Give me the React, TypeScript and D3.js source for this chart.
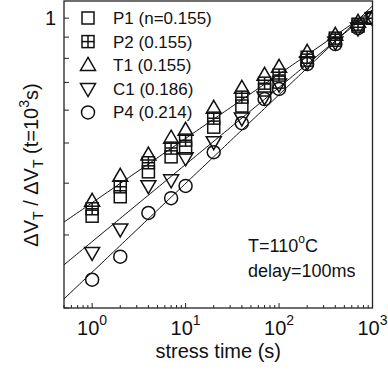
import React from "react";
import * as d3 from "d3";

const times = [1, 2, 4, 7, 10, 20, 40, 70, 100, 200, 400, 700, 1000];
const seriesNames = ["P1 (n=0.155)", "P2 (0.155)", "T1 (0.155)", "C1 (0.186)", "P4 (0.214)"];
const seriesShapes = ["square", "gridSquare", "triUp", "triDown", "circle"];
const P1 = [0.333, 0.371, 0.426, 0.463, 0.486, 0.546, 0.614, 0.671, 0.701, 0.792, 0.885, 0.957, 1.0];
const P2 = [0.347, 0.392, 0.448, 0.486, 0.508, 0.574, 0.645, 0.697, 0.729, 0.805, 0.895, 0.967, 1.0];
const T1 = [0.362, 0.416, 0.468, 0.514, 0.537, 0.607, 0.678, 0.729, 0.762, 0.828, 0.91, 0.978, 1.0];
const C1 = [0.272, 0.31, 0.394, 0.407, 0.46, 0.503, 0.574, 0.645, 0.693, 0.783, 0.875, 0.946, 1.0];
const P4 = [0.234, 0.266, 0.339, 0.368, 0.394, 0.475, 0.558, 0.638, 0.675, 0.775, 0.866, 0.946, 1.0];
const seriesValues = [P1, P2, T1, C1, P4];
const fitExponents = [0.155, 0.186, 0.214];
const fitPrefactors = [1.047, 1.045, 1.07];
const xTickExponents = [0, 1, 2, 3];

const W = 388, H = 371;
const L = 64, R = 372.5, T = 1, B = 308;
const FONT = "'Liberation Sans', Arial, Helvetica, sans-serif";

function Marker({ shape, cx, cy }: { shape: string; cx: number; cy: number }) {
  const s = 6;
  const common = { fill: "none", stroke: "#111", strokeWidth: 1.5 };
  if (shape === "square") return <rect x={cx - s} y={cy - s} width={2 * s} height={2 * s} {...common} />;
  if (shape === "gridSquare")
    return (
      <g {...common}>
        <rect x={cx - s} y={cy - s} width={2 * s} height={2 * s} />
        <line x1={cx - s} x2={cx + s} y1={cy} y2={cy} />
        <line x1={cx} x2={cx} y1={cy - s} y2={cy + s} />
      </g>
    );
  if (shape === "triUp") {
    const h = 13, w = 7.5;
    return <path d={`M${cx},${cy - h * 0.6}L${cx + w},${cy + h * 0.4}L${cx - w},${cy + h * 0.4}Z`} {...common} />;
  }
  if (shape === "triDown") {
    const h = 13, w = 7.5;
    return <path d={`M${cx},${cy + h * 0.6}L${cx + w},${cy - h * 0.4}L${cx - w},${cy - h * 0.4}Z`} {...common} />;
  }
  return <circle cx={cx} cy={cy} r={6.5} {...common} />;
}

export default function App() {
  const x = d3.scaleLog().domain([0.5, 1000]).range([L, R]);
  const y = d3.scaleLog().domain([0.2, 1.1]).range([B, T]);

  const xMinor: number[] = [];
  for (let e = -1; e <= 2; e++) for (let m = 1; m <= 9; m++) {
    const v = m * Math.pow(10, e);
    if (v >= 0.5 && v <= 1000) xMinor.push(v);
  }
  xMinor.push(1000);
  const yTicks = [0.2, 0.3, 0.4, 0.5, 0.6, 0.7, 0.8, 0.9, 1];

  const fitTs = d3.range(0, 101).map((i) => 0.5 * Math.pow(2000, i / 100));
  const lineGen = d3.line<number[]>().x((d) => x(d[0])).y((d) => y(d[1]));

  return (
    <svg width={W} height={H} style={{ position: "absolute", left: 0, top: 0, background: "#fff" }} fontFamily={FONT}>
      <defs>
        <clipPath id="plot">
          <rect x={L} y={T} width={R - L} height={B - T} />
        </clipPath>
      </defs>
      {/* fit lines */}
      <g clipPath="url(#plot)">
        {fitExponents.map((n, i) => (
          <path key={i} d={lineGen(fitTs.map((t) => [t, fitPrefactors[i] * Math.pow(t / 1000, n)])) || ""} fill="none" stroke="#111" strokeWidth={1} />
        ))}
        {seriesValues.map((vals, si) =>
          vals.map((v, i) => <Marker key={si + "-" + i} shape={seriesShapes[si]} cx={x(times[i])} cy={y(v)} />)
        )}
      </g>
      {/* ticks */}
      {xMinor.map((v, i) => {
        const major = Math.abs(Math.log10(v) - Math.round(Math.log10(v))) < 1e-9;
        return <line key={i} x1={x(v)} x2={x(v)} y1={B} y2={B - (major ? 5 : 3)} stroke="#222" strokeWidth={1} />;
      })}
      {yTicks.map((v, i) => (
        <line key={i} x1={L} x2={L + 5} y1={y(v)} y2={y(v)} stroke="#222" strokeWidth={1} />
      ))}
      <rect x={L} y={T} width={R - L} height={B - T} fill="none" stroke="#222" strokeWidth={1.3} />
      {/* tick labels */}
      {xTickExponents.map((e) => (
        <text key={e} x={x(Math.pow(10, e))} y={335} fontSize={20} textAnchor="middle" fill="#111">
          10<tspan fontSize={14} dy={-10}>{e}</tspan>
        </text>
      ))}
      <text x={56} y={25} fontSize={20} textAnchor="end" fill="#111">1</text>
      {/* axis titles */}
      <text x={(L + R) / 2} y={358} fontSize={20} textAnchor="middle" fill="#111">stress time (s)</text>
      <text transform="translate(38,165) rotate(-90)" fontSize={20} textAnchor="middle" fill="#111">
        ΔV<tspan fontSize={14} dy={5}>T</tspan><tspan dy={-5}> / ΔV</tspan><tspan fontSize={14} dy={5}>T</tspan>
        <tspan dy={-5}> (t=10</tspan><tspan fontSize={14} dy={-9}>3</tspan><tspan dy={9}>s)</tspan>
      </text>
      {/* legend */}
      {seriesNames.map((name, i) => {
        const cy = 18 + i * 23.6;
        return (
          <g key={name}>
            <Marker shape={seriesShapes[i]} cx={88} cy={cy} />
            <text x={113} y={cy + 6} fontSize={17} fill="#111">{name}</text>
          </g>
        );
      })}
      {/* annotation */}
      <text x={248} y={252} fontSize={18} fill="#111">
        T=110<tspan fontSize={12} dy={-9}>o</tspan><tspan dy={9}>C</tspan>
      </text>
      <text x={248} y={277} fontSize={18} fill="#111">delay=100ms</text>
    </svg>
  );
}
